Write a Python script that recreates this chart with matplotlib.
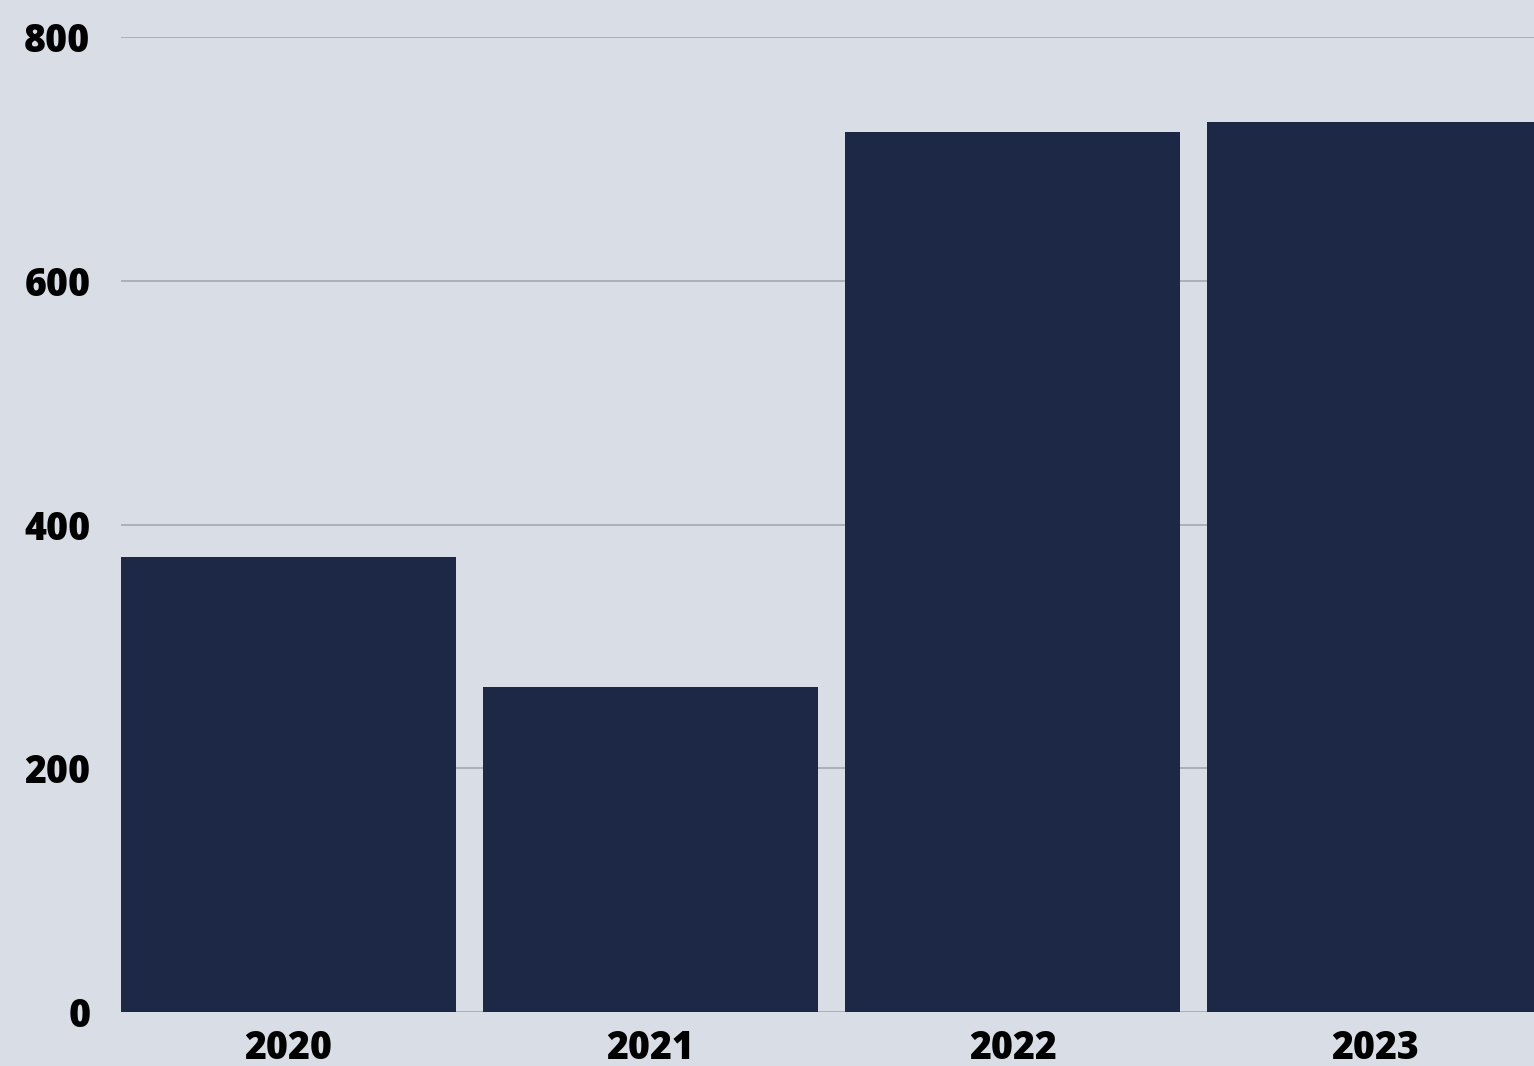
import matplotlib.pyplot as plt

years = ['2020', '2021', '2022', '2023']
values = [373, 267, 722, 730]

bg = '#d9dde6'
bar_color = '#1c2846'

fig = plt.figure(figsize=(15.34, 10.66), dpi=100, facecolor=bg)
ax = fig.add_axes([121 / 1534, 54 / 1066, 1 - 121 / 1534, (1012 - 37) / 1066])
ax.set_facecolor(bg)

x = list(range(len(years)))
ax.bar(x, values, width=0.925, color=bar_color, zorder=3)

ax.set_xlim(-0.4627, 3.44)
ax.set_ylim(0, 800)
ax.set_yticks([0, 200, 400, 600, 800])
ax.set_xticks(x)
ax.set_xticklabels(years)
ax.grid(axis='y', color='#a3a7b0', linewidth=1.2, zorder=0)

for s in ax.spines.values():
    s.set_visible(False)
ax.tick_params(axis='both', length=0, labelsize=27, colors='black')
ax.tick_params(axis='y', pad=22)
ax.tick_params(axis='x', pad=12)
for lab in ax.get_xticklabels() + ax.get_yticklabels():
    lab.set_fontfamily(['Open Sans', 'DejaVu Sans'])
    lab.set_fontweight('heavy')

fig.savefig('out.png', dpi=100, facecolor=bg)
